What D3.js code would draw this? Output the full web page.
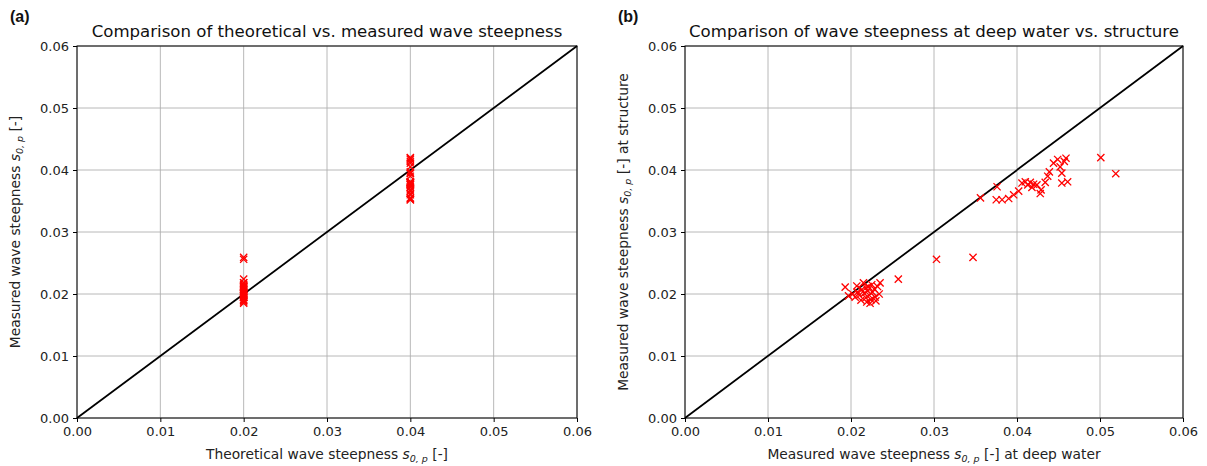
<!DOCTYPE html>
<html>
<head>
<meta charset="utf-8">
<script src="https://cdn.jsdelivr.net/npm/d3@7"></script>
<style>
  html, body { margin: 0; padding: 0; background: #fff; }
  svg { display: block; font-family: "DejaVu Sans", sans-serif; }
</style>
</head>
<body>
<svg id="chart" width="1207" height="466"></svg>
<script>
// Wave steepness measurements: deep water vs. at the structure
const deepWater = [
  0.0193, 0.0197, 0.0202, 0.0205, 0.0208, 0.0210, 0.0212, 0.0213, 0.0215, 0.0216,
  0.0218, 0.0219, 0.0220, 0.0221, 0.0222, 0.0224, 0.0225, 0.0226, 0.0228, 0.0229,
  0.0230, 0.0232, 0.0234, 0.0235, 0.0218, 0.0207, 0.0223, 0.0257, 0.0303, 0.0347,
  0.0356, 0.0376, 0.0375, 0.0382, 0.0390, 0.0396, 0.0402, 0.0406, 0.0410, 0.0413,
  0.0416, 0.0418, 0.0420, 0.0424, 0.0429, 0.0428, 0.0434, 0.0437, 0.0439, 0.0444,
  0.0449, 0.0452, 0.0454, 0.0457, 0.0459, 0.0454, 0.0461, 0.0501, 0.0519
];
const atStructure = [
  0.0211, 0.0197, 0.0200, 0.0195, 0.0203, 0.0198, 0.0190, 0.0207, 0.0218, 0.0201,
  0.0194, 0.0187, 0.0205, 0.0212, 0.0198, 0.0191, 0.0215, 0.0203, 0.0208, 0.0195,
  0.0189, 0.0212, 0.0200, 0.0218, 0.0210, 0.0213, 0.0185, 0.0224, 0.0256, 0.0259,
  0.0355, 0.0373, 0.0352, 0.0352, 0.0354, 0.0360, 0.0366, 0.0379, 0.0381, 0.0376,
  0.0380, 0.0372, 0.0377, 0.0376, 0.0368, 0.0362, 0.0380, 0.0390, 0.0397, 0.0411,
  0.0417, 0.0405, 0.0395, 0.0414, 0.0419, 0.0379, 0.0381, 0.0420, 0.0394
];
// Target steepness of each test (first 30 runs at 0.02, the rest at 0.04)
const theoretical = deepWater.map((_, i) => i < 30 ? 0.02 : 0.04);
const tickValues = [0, 0.01, 0.02, 0.03, 0.04, 0.05, 0.06];

const svg = d3.select("#chart");

function panel(opts) {
  const { left, right, top, bottom, xs, ys, title, tag, xLabelPre, xLabelPost, yLabelPost } = opts;
  const x = d3.scaleLinear().domain([0, 0.06]).range([left, right]);
  const y = d3.scaleLinear().domain([0, 0.06]).range([bottom, top]);
  const g = svg.append("g");

  // grid
  g.append("g").selectAll("line").data(tickValues).join("line")
    .attr("x1", d => x(d)).attr("x2", d => x(d))
    .attr("y1", top).attr("y2", bottom)
    .attr("stroke", "#b0b0b0").attr("stroke-width", 0.9);
  g.append("g").selectAll("line").data(tickValues).join("line")
    .attr("y1", d => y(d)).attr("y2", d => y(d))
    .attr("x1", left).attr("x2", right)
    .attr("stroke", "#b0b0b0").attr("stroke-width", 0.9);

  // 1:1 reference line
  g.append("line")
    .attr("x1", x(0)).attr("y1", y(0)).attr("x2", x(0.06)).attr("y2", y(0.06))
    .attr("stroke", "#000").attr("stroke-width", 1.8);

  // markers
  const s = 3.6;
  const pts = g.append("g").attr("stroke", "#f00").attr("stroke-width", 1.3).attr("fill", "none");
  xs.forEach((xv, i) => {
    const cx = x(xv), cy = y(ys[i]);
    pts.append("path").attr("d", `M${cx - s},${cy - s}L${cx + s},${cy + s}M${cx - s},${cy + s}L${cx + s},${cy - s}`);
  });

  // frame
  g.append("rect").attr("x", left).attr("y", top)
    .attr("width", right - left).attr("height", bottom - top)
    .attr("fill", "none").attr("stroke", "#000").attr("stroke-width", 1);

  // axes
  const fmt = d3.format(".2f");
  const xAxis = g.append("g").attr("transform", `translate(0,${bottom})`)
    .call(d3.axisBottom(x).tickValues(tickValues).tickFormat(fmt).tickSizeOuter(0).tickSize(4).tickPadding(5));
  const yAxis = g.append("g").attr("transform", `translate(${left},0)`)
    .call(d3.axisLeft(y).tickValues(tickValues).tickFormat(fmt).tickSizeOuter(0).tickSize(4).tickPadding(4));
  [xAxis, yAxis].forEach(a => {
    a.select(".domain").remove();
    a.selectAll("text").attr("font-family", "DejaVu Sans, sans-serif").attr("font-size", 13).attr("fill", "#222");
    a.selectAll("line").attr("stroke", "#000");
  });

  // title
  g.append("text").attr("x", (left + right) / 2).attr("y", top - 9)
    .attr("text-anchor", "middle").attr("font-size", 16.6).attr("fill", "#111").text(title);

  // tag
  g.append("text").attr("x", left - 67).attr("y", 22)
    .attr("font-family", "Liberation Sans, Arial, sans-serif").attr("font-weight", "bold")
    .attr("font-size", 16).attr("fill", "#111").text(tag);

  // axis label builder with s_{0,p}
  function steep(t, pre, post) {
    t.append("tspan").text(pre);
    t.append("tspan").attr("font-style", "italic").text("s");
    t.append("tspan").attr("font-style", "italic").attr("font-size", 9.5).attr("dy", 3).text("0, p");
    t.append("tspan").attr("dy", -3).text(" [-]" + post);
  }
  const xl = g.append("text").attr("x", (left + right) / 2).attr("y", bottom + 41)
    .attr("text-anchor", "middle").attr("font-size", 13.8).attr("fill", "#222");
  steep(xl, xLabelPre, xLabelPost);
  const yl = g.append("text")
    .attr("transform", `translate(${left - 57},${(top + bottom) / 2}) rotate(-90)`)
    .attr("text-anchor", "middle").attr("font-size", 13.8).attr("fill", "#222");
  steep(yl, "Measured wave steepness ", yLabelPost);
}

panel({
  left: 77, right: 577, top: 46, bottom: 418,
  xs: theoretical, ys: atStructure,
  title: "Comparison of theoretical vs. measured wave steepness",
  tag: "(a)",
  xLabelPre: "Theoretical wave steepness ", xLabelPost: "",
  yLabelPost: ""
});

panel({
  left: 685, right: 1183, top: 46, bottom: 418,
  xs: deepWater, ys: atStructure,
  title: "Comparison of wave steepness at deep water vs. structure",
  tag: "(b)",
  xLabelPre: "Measured wave steepness ", xLabelPost: " at deep water",
  yLabelPost: " at structure"
});
</script>
</body>
</html>
